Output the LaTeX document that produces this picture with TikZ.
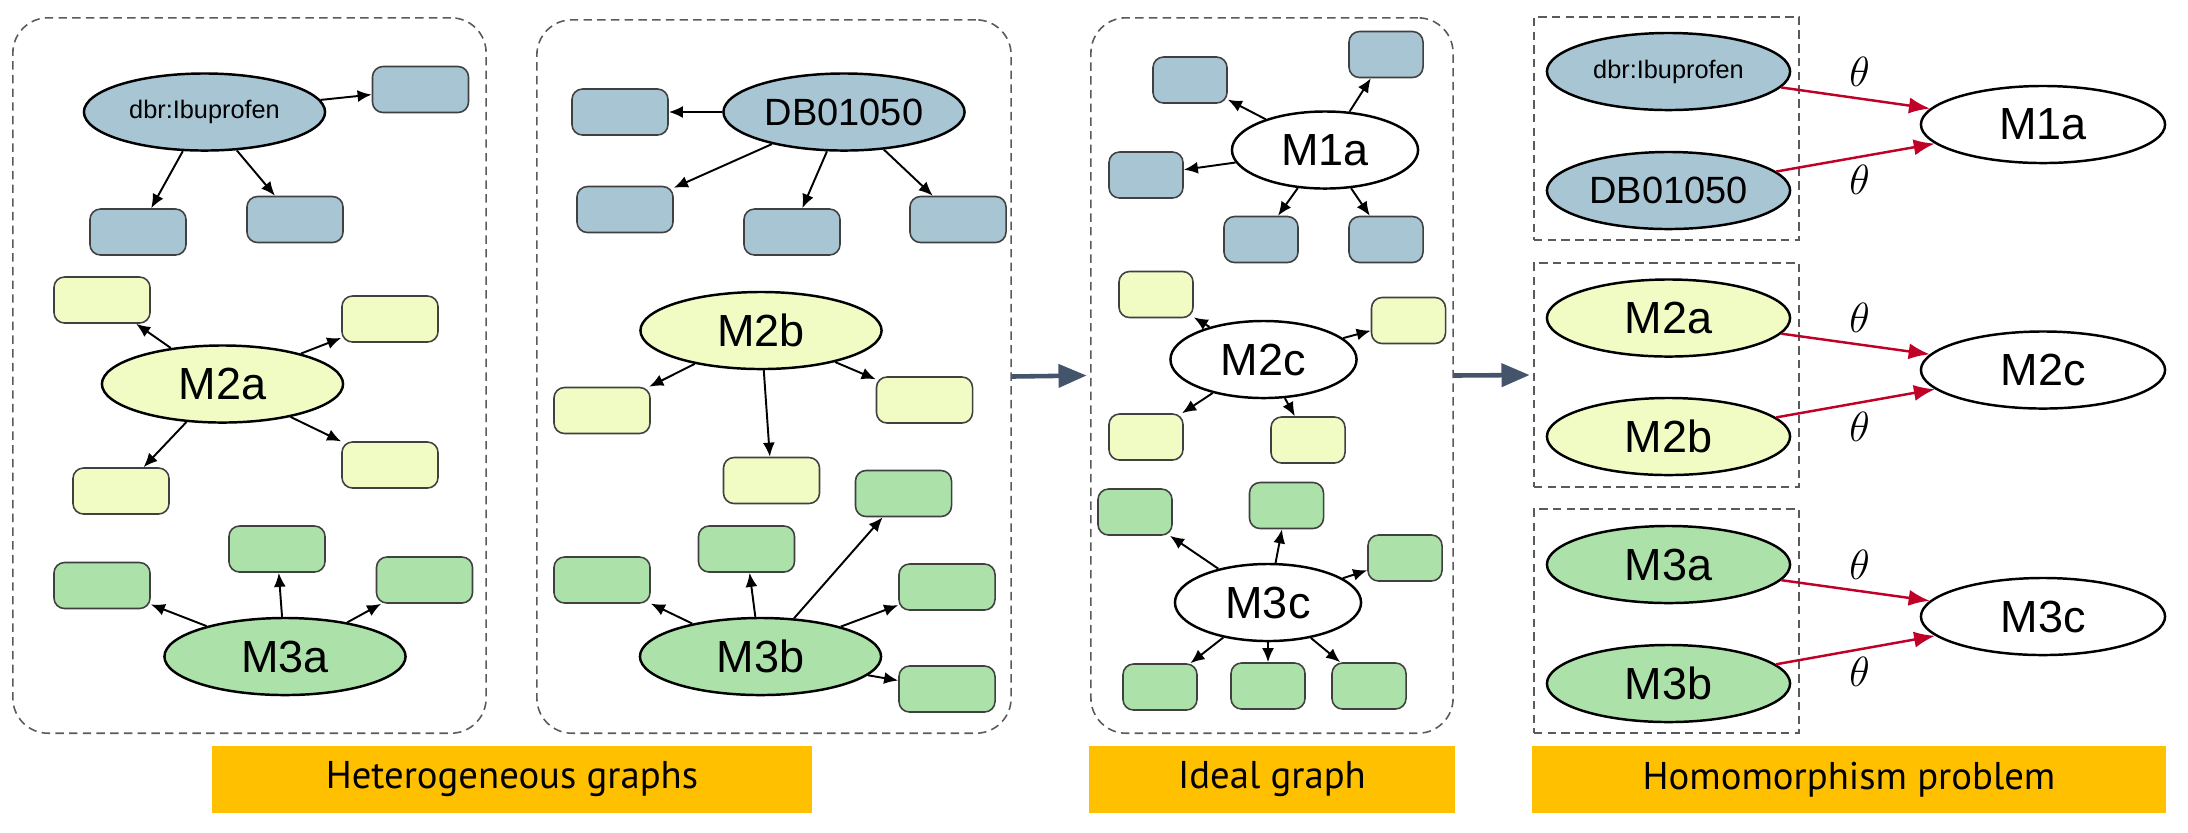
\documentclass[tikz,border=0pt]{standalone}
\usepackage{fontspec}
\setmainfont{Liberation Sans}
\newfontfamily\labelfont{PT Sans}
\usetikzlibrary{shapes.geometric,arrows.meta}
\definecolor{cblue}{RGB}{168,197,212}
\definecolor{cyel}{RGB}{240,252,196}
\definecolor{cgreen}{RGB}{172,226,170}
\definecolor{cbar}{RGB}{255,192,0}
\definecolor{carrow}{RGB}{68,84,106}
\definecolor{cred}{RGB}{192,0,39}
\definecolor{cdash}{RGB}{90,90,90}
\begin{document}
\begin{tikzpicture}[x=0.01cm,y=-0.01cm,
 panel/.style={draw=cdash, dash pattern=on 2.4pt off 1.5pt, line width=0.45pt, rounded corners=10pt, inner sep=0},
 sqpanel/.style={panel, rounded corners=0pt},
 bx/.style={draw=black!75, rounded corners=3pt, line width=0.45pt, minimum width=0.96cm, minimum height=0.46cm, inner sep=0},
 sbx/.style={bx, minimum width=0.74cm},
 el/.style={ellipse, draw, line width=0.7pt, minimum width=2.41cm, minimum height=0.77cm, inner sep=0, font=\fontsize{12.8}{15}\selectfont},
 sel/.style={el, minimum width=1.86cm},
 hel/.style={el, minimum width=2.43cm},
 ar/.style={-{Latex[length=4pt,width=3.4pt]}, line width=0.55pt},
 rar/.style={-{Latex[length=6pt,width=4.6pt]}, line width=0.7pt, draw=cred, fill=cred},
 bar/.style={fill=cbar, minimum height=0.67cm, inner sep=0, font=\labelfont\fontsize{11}{13}\selectfont},
 big/.style={-{Triangle[length=8pt,width=6.5pt]}, line width=1.3pt, draw=carrow, fill=carrow},
 th/.style={inner sep=0, font=\fontsize{11.5}{13}\selectfont},
]
\useasboundingbox (0,0) rectangle (2188,832);

% panels
\node[panel, minimum width=4.73cm, minimum height=7.15cm] (p1) at (249.5,375.5) {};
\node[panel, minimum width=4.74cm, minimum height=7.13cm] (p2) at (774,376.5) {};
\node[panel, minimum width=3.62cm, minimum height=7.15cm] (p3) at (1272,375.5) {};
\node[sqpanel, minimum width=2.65cm, minimum height=2.23cm] (p4a) at (1666.5,128.5) {};
\node[sqpanel, minimum width=2.65cm, minimum height=2.24cm] (p4b) at (1666.5,375) {};
\node[sqpanel, minimum width=2.65cm, minimum height=2.24cm] (p4c) at (1666.5,621) {};

% panel 1
\node[el, fill=cblue, font=\fontsize{7.2}{9}\selectfont] (dbr1) at (204.5,112) {dbr:Ibuprofen};
\node[bx, fill=cblue] (b11) at (420.5,89.5) {};
\node[bx, fill=cblue] (b12) at (138,232) {};
\node[bx, fill=cblue] (b13) at (295,219.5) {};
\node[el, fill=cyel] (m2a) at (222.5,384) {M2a};
\node[bx, fill=cyel] (y11) at (102,300) {};
\node[bx, fill=cyel] (y12) at (390,319) {};
\node[bx, fill=cyel] (y13) at (121,491) {};
\node[bx, fill=cyel] (y14) at (390,465) {};
\node[el, fill=cgreen] (m3a) at (285,656.5) {M3a};
\node[bx, fill=cgreen] (g11) at (102,585.5) {};
\node[bx, fill=cgreen] (g12) at (277,549) {};
\node[bx, fill=cgreen] (g13) at (424.5,580) {};
\foreach \t in {b11,b12,b13} \draw[ar] (dbr1) -- (\t);
\foreach \t in {y11,y12,y13,y14} \draw[ar] (m2a) -- (\t);
\foreach \t in {g11,g12,g13} \draw[ar] (m3a) -- (\t);

% panel 2
\node[el, fill=cblue, font=\fontsize{10.8}{13}\selectfont] (db2) at (844,112) {DB01050};
\node[bx, fill=cblue] (b21) at (620,112) {};
\node[bx, fill=cblue] (b22) at (625,209.5) {};
\node[bx, fill=cblue] (b23) at (792,232) {};
\node[bx, fill=cblue] (b24) at (958,219.5) {};
\node[el, fill=cyel] (m2b) at (761,330.5) {M2b};
\node[bx, fill=cyel] (y21) at (602,410.5) {};
\node[bx, fill=cyel] (y22) at (771.5,480.5) {};
\node[bx, fill=cyel] (y23) at (924.5,400) {};
\node[el, fill=cgreen] (m3b) at (760.5,656.5) {M3b};
\node[bx, fill=cgreen] (g21) at (602,580) {};
\node[bx, fill=cgreen] (g22) at (746.5,549) {};
\node[bx, fill=cgreen] (g23) at (903.5,493.5) {};
\node[bx, fill=cgreen] (g24) at (947,587) {};
\node[bx, fill=cgreen] (g25) at (947,689) {};
\foreach \t in {b21,b22,b23,b24} \draw[ar] (db2) -- (\t);
\foreach \t in {y21,y22,y23} \draw[ar] (m2b) -- (\t);
\foreach \t in {g21,g22,g23,g24,g25} \draw[ar] (m3b) -- (\t);

% panel 3
\node[sel, fill=white] (m1c) at (1325,150) {M1a};
\node[sbx, fill=cblue] (b31) at (1190,80) {};
\node[sbx, fill=cblue] (b32) at (1386,54.5) {};
\node[sbx, fill=cblue] (b33) at (1146,175) {};
\node[sbx, fill=cblue] (b34) at (1261,239.5) {};
\node[sbx, fill=cblue] (b35) at (1386,239.5) {};
\node[sel, fill=white] (m2c) at (1263.5,359.5) {M2c};
\node[sbx, fill=cyel] (y31) at (1156,294.5) {};
\node[sbx, fill=cyel] (y32) at (1408.5,320.5) {};
\node[sbx, fill=cyel] (y33) at (1146,437) {};
\node[sbx, fill=cyel] (y34) at (1308,440) {};
\node[sel, fill=white] (m3c) at (1268,602.5) {M3c};
\node[sbx, fill=cgreen] (g31) at (1135,512) {};
\node[sbx, fill=cgreen] (g32) at (1286.5,505.5) {};
\node[sbx, fill=cgreen] (g33) at (1405,558) {};
\node[sbx, fill=cgreen] (g34) at (1160,687) {};
\node[sbx, fill=cgreen] (g35) at (1268,686) {};
\node[sbx, fill=cgreen] (g36) at (1369,686) {};
\foreach \t in {b31,b32,b33,b34,b35} \draw[ar] (m1c) -- (\t);
\foreach \t in {y31,y32,y33,y34} \draw[ar] (m2c) -- (\t);
\foreach \t in {g31,g32,g33,g34,g35,g36} \draw[ar] (m3c) -- (\t);

% panel 4
\node[hel, fill=cblue, font=\fontsize{7.2}{9}\selectfont] (h1) at (1668.5,71.5) {dbr:Ibuprofen};
\node[hel, fill=cblue, font=\fontsize{10.8}{13}\selectfont] (h2) at (1668.5,190.5) {DB01050};
\node[hel, fill=cyel] (h3) at (1668.5,318) {M2a};
\node[hel, fill=cyel] (h4) at (1668.5,436.5) {M2b};
\node[hel, fill=cgreen] (h5) at (1668.5,564.5) {M3a};
\node[hel, fill=cgreen] (h6) at (1668.5,683.5) {M3b};
\node[hel, minimum width=2.44cm, fill=white] (t1) at (2043,124.5) {M1a};
\node[hel, minimum width=2.44cm, fill=white] (t2) at (2043,370) {M2c};
\node[hel, minimum width=2.44cm, fill=white] (t3) at (2043,616.5) {M3c};
\draw[rar] (h1) -- (t1);
\draw[rar] (h2) -- (t1);
\draw[rar] (h3) -- (t2);
\draw[rar] (h4) -- (t2);
\draw[rar] (h5) -- (t3);
\draw[rar] (h6) -- (t3);
\node[th] (th1) at (1859.5,72) {$\theta$};
\node[th] (th2) at (1859.5,180) {$\theta$};
\node[th] (th3) at (1859.5,318) {$\theta$};
\node[th] (th4) at (1859.5,427) {$\theta$};
\node[th] (th5) at (1859.5,565) {$\theta$};
\node[th] (th6) at (1859.5,672) {$\theta$};

% big arrows
\draw[big] (p2.east) -- ([xshift=-1pt]p3.west);
\draw[big] (p3.east) -- ([xshift=-1pt]p4b.west);

% bars
\node[bar, minimum width=6.00cm] (l1) at (512,779.5) {Heterogeneous graphs};
\node[bar, minimum width=3.66cm] (l2) at (1272,779.5) {Ideal graph};
\node[bar, minimum width=6.34cm] (l3) at (1849,779.5) {Homomorphism problem};
\end{tikzpicture}
\end{document}
